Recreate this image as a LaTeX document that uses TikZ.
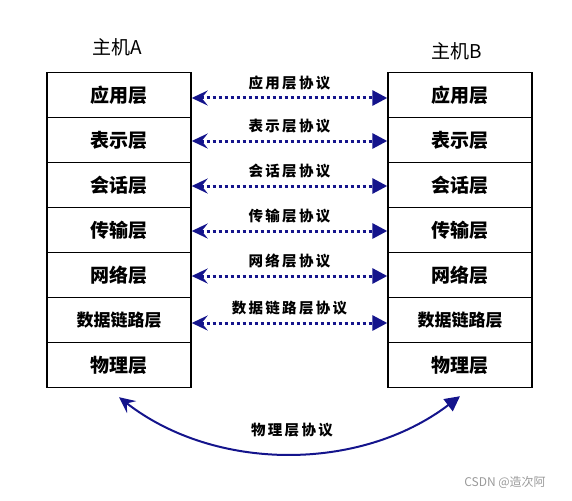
\documentclass[tikz,border=0pt]{standalone}
\usepackage{fontspec}
\setmainfont{Noto Sans CJK SC}
\newfontfamily\labfont[LetterSpace=16]{Noto Sans CJK SC}
\usepackage{tikz}
\usetikzlibrary{positioning,arrows.meta,calc}
\definecolor{nvy}{HTML}{14148C}
\definecolor{wmk}{HTML}{9A9A9A}

\begin{document}
\begin{tikzpicture}[x=1pt, y=-1pt,
  layer/.style={draw, line width=1.4pt, minimum width=144pt, minimum height=45pt,
                inner sep=0pt, font=\fontsize{19}{19}\selectfont\bfseries},
  ttl/.style={font=\fontsize{19}{19}\selectfont},
  lab/.style={text=black, font=\fontsize{14.5}{14.5}\selectfont\labfont\bfseries, inner sep=1pt},
  prt/.style={nvy, line width=3pt, dash pattern=on 3pt off 3pt,
              {Stealth[length=16pt, width=15pt, inset=6pt]}-{Triangle[length=15pt, width=15pt]}},
  phy/.style={nvy, line width=2pt,
              {Stealth[length=16pt, width=15pt, inset=6pt]}-{Triangle[length=15pt, width=15pt]}}
]
\useasboundingbox (0,0) rectangle (572,500);
% host A
\node[ttl] (ha) at (117,47) {主机A};
\node[layer] (la1) at (119,95) {应用层};
\node[layer] (la2) at (119,140) {表示层};
\node[layer] (la3) at (119,185) {会话层};
\node[layer] (la4) at (119,230) {传输层};
\node[layer] (la5) at (119,275) {网络层};
\node[layer, font=\fontsize{17}{17}\selectfont\bfseries] (la6) at (119,320) {数据链路层};
\node[layer] (la7) at (119,365) {物理层};
% host B
\node[ttl] (hb) at (457,51) {主机B};
\node[layer] (ra1) at (460,95) {应用层};
\node[layer] (ra2) at (460,140) {表示层};
\node[layer] (ra3) at (460,185) {会话层};
\node[layer] (ra4) at (460,230) {传输层};
\node[layer] (ra5) at (460,275) {网络层};
\node[layer, font=\fontsize{17}{17}\selectfont\bfseries] (ra6) at (460,320) {数据链路层};
\node[layer] (ra7) at (460,365) {物理层};

% peer protocols
\draw[prt] ([yshift=-3pt]la1.east) -- node[lab, above=5pt]{应用层协议} ([yshift=-3pt]ra1.west);
\draw[prt] ([yshift=-1pt]la2.east) -- node[lab, above=5pt]{表示层协议} ([yshift=-1pt]ra2.west);
\draw[prt] ([yshift=-1pt]la3.east) -- node[lab, above=5pt]{会话层协议} ([yshift=-1pt]ra3.west);
\draw[prt] ([yshift=-1pt]la4.east) -- node[lab, above=5pt]{传输层协议} ([yshift=-1pt]ra4.west);
\draw[prt] ([yshift=-1pt]la5.east) -- node[lab, above=5pt]{网络层协议} ([yshift=-1pt]ra5.west);
\draw[prt] ([yshift=-3pt]la6.east) -- node[lab, above=5pt]{数据链路层协议} ([yshift=-3pt]ra6.west);
\draw[phy] ([yshift=-9pt]la7.south) .. controls (215,472) and (360,472) .. ([yshift=-8pt]ra7.south);
\node[lab] (pl) at (292,430) {物理层协议};

\node[font=\fontsize{12}{12}\selectfont, text=wmk] (wm) at (505,482) {CSDN @造次阿};
\end{tikzpicture}
\end{document}
